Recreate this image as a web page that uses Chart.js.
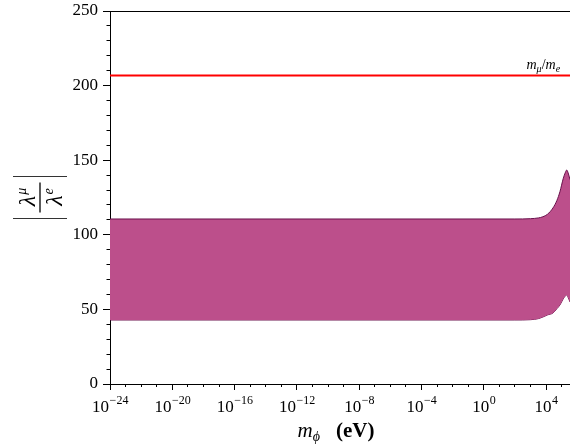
<!DOCTYPE html>
<html>
<head>
<meta charset="utf-8">
<script src="https://cdn.jsdelivr.net/npm/chart.js@4"></script>
<style>
  body { margin: 0; background: #fff; }
  #wrap { width: 570px; height: 444px; }
</style>
</head>
<body>
<div id="wrap"><canvas id="ratioChart"></canvas></div>
<script>
// mass of the scalar (eV) and the allowed band of |lambda_mu / lambda_e|
const massEV     = [1e-24, 1e2,   1e3,   3.2e3, 6.3e3, 1.26e4, 2.8e4, 5e4,   7.9e4, 1.26e5, 1.78e5, 2.14e5, 2.63e5, 3.47e5];
const upperRatio = [110.6, 110.6, 110.8, 111.3, 112.1, 113.8,  118,   123,   129,   137.5,  142,    143.4,  141.5,  137];
const lowerRatio = [42.9,  42.9,  43.1,  43.8,  44.9,  46.3,   47.6,  50.5,  53,    57,     59.2,   59.7,   58,     55];

const muOverE = 206.77;
const xTickExps = [-24, -20, -16, -12, -8, -4, 0, 4];
const yTicks = [0, 50, 100, 150, 200, 250];

const xMin = 1e-24, xMax = 3.47e5;
const serif = '"Liberation Serif", "DejaVu Serif", serif';

const pts = ys => massEV.map((m, i) => ({ x: m, y: ys[i] }));

// draws the math-style labels (x tick labels, axis titles, line label)
const mathText = {
  id: 'mathText',
  afterDraw(chart) {
    const ctx = chart.ctx;
    const xs = chart.scales.x, ys = chart.scales.y;
    ctx.save();
    ctx.fillStyle = '#000';
    ctx.textBaseline = 'alphabetic';
    ctx.textAlign = 'left';

    // x tick labels 10^n
    xTickExps.forEach(e => {
      const px = xs.getPixelForValue(Math.pow(10, e));
      const exp = e < 0 ? '\u2212' + (-e) : String(e);
      ctx.font = '17px ' + serif;
      const w1 = ctx.measureText('10').width;
      ctx.font = '12px ' + serif;
      const w2 = ctx.measureText(exp).width;
      const x0 = px - (w1 + w2) / 2;
      ctx.font = '17px ' + serif;
      ctx.fillText('10', x0, 412);
      ctx.font = '12px ' + serif;
      ctx.fillText(exp, x0 + w1 + 0.5, 404);
    });

    // x title: m_phi (eV)
    const cx = chart.chartArea.left + 226;
    ctx.font = 'italic 21px ' + serif;
    const wm = ctx.measureText('m').width;
    ctx.font = 'italic 14px ' + serif;
    const wp = ctx.measureText('\u03d5').width;
    ctx.font = 'bold 21px ' + serif;
    const we = ctx.measureText('(eV)').width;
    const gap = 16;
    let tx = cx - (wm + wp + gap + we) / 2;
    ctx.font = 'italic 21px ' + serif;
    ctx.fillText('m', tx, 437);
    tx += wm;
    ctx.font = 'italic 14px ' + serif;
    ctx.fillText('\u03d5', tx, 441);
    tx += wp + gap;
    ctx.font = 'bold 21px ' + serif;
    ctx.fillText('(eV)', tx, 437);

    // y title: |lambda^mu / lambda^e| rotated
    const cy = (chart.chartArea.top + chart.chartArea.bottom) / 2;
    ctx.save();
    ctx.translate(40, cy);
    ctx.rotate(-Math.PI / 2);
    ctx.strokeStyle = '#333';
    ctx.lineWidth = 1.2;
    ctx.beginPath();
    ctx.moveTo(-21, -27); ctx.lineTo(-21, 27);
    ctx.moveTo(21, -27); ctx.lineTo(21, 27);
    ctx.stroke();
    ctx.strokeStyle = '#000';
    ctx.lineWidth = 1.3;
    ctx.beginPath();
    ctx.moveTo(-15, 0); ctx.lineTo(15, 0);
    ctx.stroke();
    const frac = (sup, base) => {
      ctx.font = 'italic 24px ' + serif;
      const wl = ctx.measureText('\u03bb').width;
      ctx.font = 'italic 14px ' + serif;
      const ws = ctx.measureText(sup).width;
      const x0 = -(wl + ws) / 2;
      ctx.font = 'italic 24px ' + serif;
      ctx.fillText('\u03bb', x0, base);
      ctx.font = 'italic 14px ' + serif;
      ctx.fillText(sup, x0 + wl + 1, base - 9);
    };
    frac('\u03bc', -5);
    frac('e', 22);
    ctx.restore();

    // label of the red line: m_mu / m_e
    const lx = xs.getPixelForValue(6.9e4) + 1;
    const ly = ys.getPixelForValue(muOverE) - 6;
    const parts = [['m', 'italic 14px', 0], ['\u03bc', 'italic 10px', 3], ['/', '14px', 0], ['m', 'italic 14px', 0], ['e', 'italic 10px', 3]];
    let total = 0;
    parts.forEach(p => { ctx.font = p[1] + ' ' + serif; total += ctx.measureText(p[0]).width; });
    let px = lx - total;
    parts.forEach(p => {
      ctx.font = p[1] + ' ' + serif;
      ctx.fillText(p[0], px, ly + p[2]);
      px += ctx.measureText(p[0]).width;
    });
    ctx.restore();
  }
};

new Chart('ratioChart', {
  type: 'line',
  data: {
    datasets: [
      {
        data: pts(upperRatio),
        borderColor: 'rgb(105,15,75)',
        borderWidth: 1,
        backgroundColor: 'rgb(188,79,139)',
        fill: '+1',
        pointRadius: 0,
        cubicInterpolationMode: 'monotone'
      },
      {
        data: pts(lowerRatio),
        borderColor: 'rgb(105,15,75)',
        borderWidth: 1,
        fill: false,
        pointRadius: 0,
        cubicInterpolationMode: 'monotone'
      },
      {
        data: [{ x: xMin, y: muOverE }, { x: xMax, y: muOverE }],
        borderColor: '#ff0000',
        borderWidth: 1.8,
        fill: false,
        pointRadius: 0
      }
    ]
  },
  options: {
    responsive: true,
    maintainAspectRatio: false,
    animation: false,
    layout: { padding: { top: 11, right: 0, left: 0, bottom: 0 } },
    plugins: { legend: { display: false }, tooltip: { enabled: false } },
    scales: {
      x: {
        type: 'logarithmic',
        position: 'bottom',
        weight: 1,
        min: xMin, max: xMax,
        afterBuildTicks: s => { s.ticks = xTickExps.map(e => ({ value: Math.pow(10, e) })); },
        afterFit: s => { s.height = 60; s.paddingLeft = 0; s.paddingRight = 0; },
        ticks: { display: false, autoSkip: false },
        grid: { drawOnChartArea: false, tickLength: 6, tickColor: '#000', tickWidth: 1 },
        border: { color: '#000', width: 1 }
      },
      xMinor: {
        type: 'logarithmic',
        position: 'bottom',
        weight: 0,
        min: xMin, max: xMax,
        afterBuildTicks: s => {
          const t = [];
          for (let e = -24; e <= 5; e++) t.push({ value: Math.pow(10, e) });
          s.ticks = t;
        },
        afterFit: s => { s.height = 0; },
        ticks: { display: false, autoSkip: false },
        grid: { drawOnChartArea: false, tickLength: 3, tickColor: '#000', tickWidth: 1 },
        border: { display: false }
      },
      xTop: {
        type: 'logarithmic',
        position: 'top',
        min: xMin, max: xMax,
        afterFit: s => { s.height = 0; },
        ticks: { display: false },
        grid: { display: false },
        border: { color: '#000', width: 1 }
      },
      y: {
        type: 'linear',
        position: 'left',
        weight: 1,
        min: 0, max: 250,
        afterBuildTicks: s => { s.ticks = yTicks.map(v => ({ value: v })); },
        afterFit: s => { s.width = 110; s.paddingTop = 0; s.paddingBottom = 0; },
        ticks: { color: '#000', font: { family: serif, size: 17 }, padding: 5 },
        grid: { drawOnChartArea: false, tickLength: 7, tickColor: '#000', tickWidth: 1 },
        border: { color: '#000', width: 1 }
      },
      yMinor: {
        type: 'linear',
        position: 'left',
        weight: 0,
        min: 0, max: 250,
        ticks: { display: false, stepSize: 10 },
        afterFit: s => { s.width = 0; s.paddingTop = 0; s.paddingBottom = 0; },
        grid: { drawOnChartArea: false, tickLength: 3.5, tickColor: '#000', tickWidth: 1 },
        border: { display: false }
      }
    }
  },
  plugins: [mathText]
});
</script>
</body>
</html>
